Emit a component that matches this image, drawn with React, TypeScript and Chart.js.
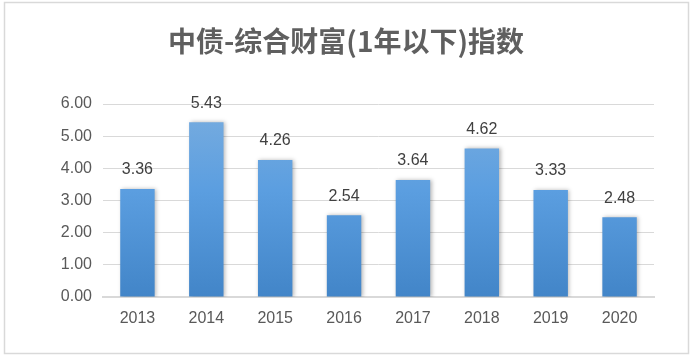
import React, { useEffect, useRef } from "react";
import { Chart, registerables } from "chart.js";

Chart.register(...registerables);

const titleText = "中债-综合财富(1年以下)指数";
const categories = ["2013", "2014", "2015", "2016", "2017", "2018", "2019", "2020"];
const values = [3.36, 5.43, 4.26, 2.54, 3.64, 4.62, 3.33, 2.48];
const yTicks = [0, 1, 2, 3, 4, 5, 6];

const W = 693;
const H = 357;

export default function App() {
  const ref = useRef<HTMLCanvasElement | null>(null);

  useEffect(() => {
    const canvas = ref.current;
    if (!canvas) return;

    const framePlugin = {
      id: "frame",
      beforeDraw(chart: any) {
        const ctx = chart.ctx;
        ctx.save();
        ctx.fillStyle = "#ffffff";
        ctx.fillRect(0, 0, W, H);
        ctx.strokeStyle = "#d9d9d9";
        ctx.lineWidth = 1.5;
        ctx.strokeRect(4.5, 2.5, 684, 351);
        ctx.fillStyle = "#5f5f5f";
        ctx.font = "bold 28px 'Noto Sans CJK SC', sans-serif";
        ctx.textAlign = "center";
        ctx.textBaseline = "middle";
        ctx.fillText(titleText, 346, 41);
        ctx.restore();
      },
      beforeDatasetsDraw(chart: any) {
        const ctx = chart.ctx;
        ctx.save();
        ctx.shadowColor = "rgba(0,0,0,0.28)";
        ctx.shadowBlur = 4;
        ctx.shadowOffsetX = 1.5;
        ctx.shadowOffsetY = 0;
      },
      afterDatasetsDraw(chart: any) {
        const ctx = chart.ctx;
        ctx.restore();
        ctx.save();
        const meta = chart.getDatasetMeta(0);
        ctx.fillStyle = "#404040";
        ctx.font = "16px 'Liberation Sans', Arial, sans-serif";
        ctx.textAlign = "center";
        ctx.textBaseline = "middle";
        meta.data.forEach((bar: any, i: number) => {
          ctx.fillText(values[i].toFixed(2), bar.x, bar.y - 19);
        });
        ctx.restore();
      },
    };

    const chart = new Chart(canvas, {
      type: "bar",
      data: {
        labels: categories,
        datasets: [
          {
            data: values,
            backgroundColor: (c: any) => {
              const area = c.chart.chartArea;
              if (!area) return "#5b9bd5";
              const g = c.chart.ctx.createLinearGradient(0, area.bottom, 0, area.top);
              g.addColorStop(0, "#4285c8");
              g.addColorStop(0.55, "#5b9ee0");
              g.addColorStop(1, "#79addf");
              return g;
            },
            borderWidth: 0,
            categoryPercentage: 1,
            barPercentage: 0.5,
          },
        ],
      },
      options: {
        responsive: false,
        animation: false,
        devicePixelRatio: 1,
        layout: { padding: { top: 104, left: 0, right: 39, bottom: 20 } },
        plugins: {
          legend: { display: false },
          title: { display: false },
          tooltip: { enabled: false },
        },
        scales: {
          x: {
            grid: { display: false, drawTicks: false },
            border: { display: true, color: "#d9d9d9", width: 2 },
            ticks: {
              color: "#595959",
              font: { family: "'Liberation Sans', Arial, sans-serif", size: 16 },
              padding: 12,
            },
            afterFit: (s: any) => {
              s.height = 40;
            },
          },
          y: {
            min: 0,
            max: 6,
            afterBuildTicks: (s: any) => {
              s.ticks = yTicks.map((v) => ({ value: v }));
            },
            grid: { color: "#d9d9d9", lineWidth: 1, drawTicks: false },
            border: { display: false },
            ticks: {
              color: "#595959",
              font: { family: "'Liberation Sans', Arial, sans-serif", size: 16 },
              padding: 11,
              callback: (v: any) => Number(v).toFixed(2),
            },
            afterFit: (s: any) => {
              s.width = 103;
            },
          },
        },
      },
      plugins: [framePlugin],
    });

    return () => chart.destroy();
  }, []);

  return (
    <div style={{ position: "fixed", left: 0, top: 0, width: W, height: H, background: "#fff" }}>
      <canvas ref={ref} width={W} height={H} style={{ width: W, height: H, display: "block" }} />
    </div>
  );
}
